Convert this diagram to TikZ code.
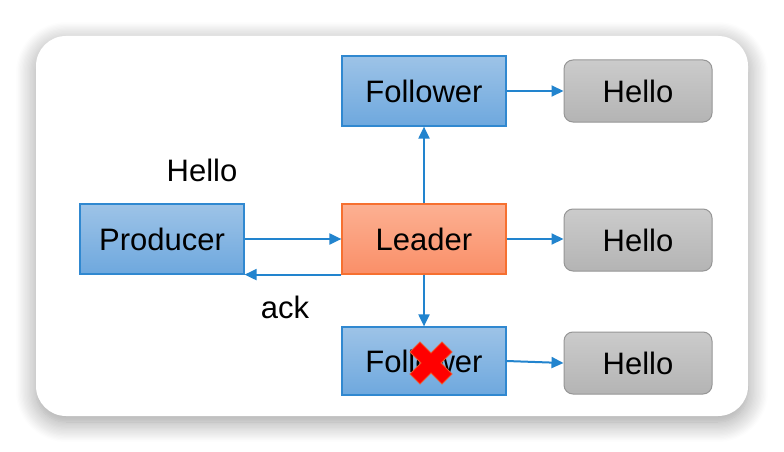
\documentclass[tikz,border=0pt]{standalone}
\usepackage{fontspec}
\setmainfont{Liberation Sans}
\usetikzlibrary{arrows.meta,positioning,shadows.blur,calc}
\definecolor{skyt}{RGB}{157,195,231}
\definecolor{skyb}{RGB}{110,168,222}
\definecolor{skyline}{RGB}{48,136,208}
\definecolor{coralt}{RGB}{252,176,146}
\definecolor{coralb}{RGB}{250,143,104}
\definecolor{coralline}{RGB}{246,112,48}
\definecolor{asht}{RGB}{203,203,203}
\definecolor{ashb}{RGB}{180,180,180}
\definecolor{ashline}{RGB}{150,150,150}
\definecolor{wire}{RGB}{34,132,206}
\definecolor{xred}{RGB}{255,0,0}
\definecolor{xrim}{RGB}{238,84,44}
\tikzset{
  >={Triangle[length=12pt,width=11pt]},
  card/.style={fill=white,rounded corners=30pt,
    blur shadow={shadow xshift=0pt,shadow yshift=-6pt,shadow blur radius=20pt,
      shadow blur steps=16,shadow opacity=40}},
  broker/.style={draw=#1line,top color=#1t,bottom color=#1b,line width=1.2pt,
    minimum width=164pt,minimum height=70pt,font=\fontsize{31}{37}\selectfont},
  broker/.default=sky,
  msg/.style={draw=ashline,top color=asht,bottom color=ashb,line width=1pt,rounded corners=9pt,
    minimum width=148pt,minimum height=62pt,font=\fontsize{31}{37}\selectfont},
  flow/.style={->,line width=2pt,draw=wire},
  tag/.style={font=\fontsize{31}{37}\selectfont},
  % pictograms
  pics/cross/.style={code={
    \filldraw[fill=xred,draw=xrim,line width=1pt]
      (0,10) -- (11,21) -- (21,11) -- (10,0) -- (21,-11) -- (11,-21) -- (0,-10)
      -- (-11,-21) -- (-21,-11) -- (-10,0) -- (-21,11) -- (-11,21) -- cycle;
  }},
}

\begin{document}
\begin{tikzpicture}[x=1pt,y=-1pt]
    \useasboundingbox (0,0) rectangle (784,452);
    \path[card] (36,36) rectangle (748,416);
    \node[broker] (prod) at (162,239) {Producer};
    \node[broker=coral] (lead) at (424,239) {Leader};
    \node[broker] (fol1) at (424,91) {Follower};
    \node[broker,minimum height=68pt] (fol2) at (424,361) {Follower};
    \foreach \n/\y in {1/91,2/240,3/363}
      \node[msg] (h\n) at (638,\y) {Hello};
    \node[tag] (sent) at (202,170) {Hello};
    \node[tag] (ack) at (285,307) {ack};
    \draw[flow] (prod.east) -- (lead.west |- prod.east);
    \draw[flow] (lead.south west) -- (prod.east |- lead.south west);
    \draw[flow] (lead) -- (fol1);
    \draw[flow] (lead) -- (fol2);
    \draw[flow] (fol1) -- (h1);
    \draw[flow] (lead.east) -- (lead.east -| h2.west);
    \draw[flow] (fol2.east) -- (h3.west);
    \pic at (431,363) {cross};
  \end{tikzpicture}
\end{document}
